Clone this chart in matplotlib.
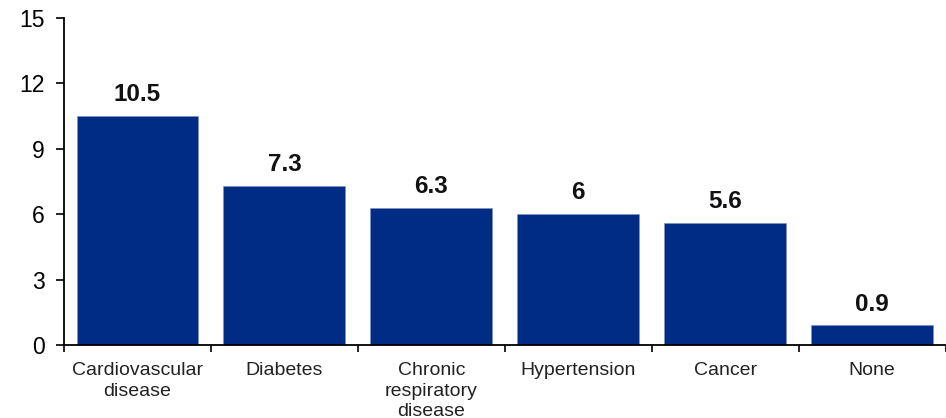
import matplotlib.pyplot as plt
import numpy as np

plt.rcParams['font.family'] = ['Liberation Sans', 'DejaVu Sans']

categories = ["Cardiovascular\ndisease", "Diabetes", "Chronic\nrespiratory\ndisease",
              "Hypertension", "Cancer", "None"]
values = [10.5, 7.3, 6.3, 6, 5.6, 0.9]
yticks = [0, 3, 6, 9, 12, 15]

fig = plt.figure(figsize=(9.46, 4.18), dpi=100)
ax = fig.add_axes([0.0677, 0.1746, 0.932, 0.7825])

x = np.arange(len(categories))
bars = ax.bar(x, values, width=0.83, color="#002C85", edgecolor="#8090c0", linewidth=0.4)

for b, v in zip(bars, values):
    ax.annotate(f"{v:g}", (b.get_x() + b.get_width() / 2, v), xytext=(0, 7),
                textcoords="offset points", ha="center", va="bottom",
                fontsize=17.5, fontweight="bold", color="#111111")

ax.set_xlim(-0.5, len(categories) - 0.5)
ax.set_ylim(0, 15)
ax.set_yticks(yticks)
ax.tick_params(axis="y", labelsize=16.5, length=6, width=1.2, pad=8)

# tick marks sit between the categories, labels at the centres
ax.set_xticks(np.arange(-0.5, len(categories), 1.0))
ax.set_xticklabels([])
ax.tick_params(axis="x", which="major", length=5, width=1.2)
ax.set_xticks(x, minor=True)
ax.set_xticklabels(categories, minor=True, fontsize=14, color="#222222", linespacing=1.3)
ax.tick_params(axis="x", which="minor", length=0, pad=12)

for s in ["top", "right"]:
    ax.spines[s].set_visible(False)
for s in ["left", "bottom"]:
    ax.spines[s].set_linewidth(1.3)

fig.savefig("out.png", dpi=100)
